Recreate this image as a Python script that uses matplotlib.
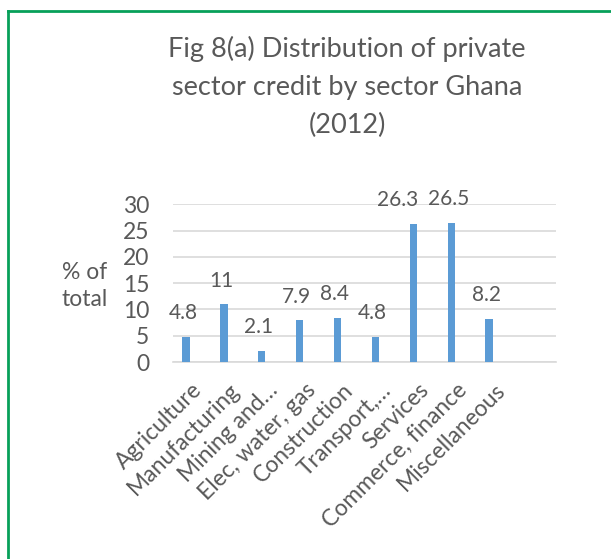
import matplotlib.pyplot as plt
import matplotlib.transforms as mtransforms
from matplotlib.lines import Line2D

sectors = ['Agriculture', 'Manufacturing', 'Mining and…', 'Elec, water, gas',
           'Construction', 'Transport,…', 'Services', 'Commerce, finance',
           'Miscellaneous']
share = [4.8, 11, 2.1, 7.9, 8.4, 4.8, 26.3, 26.5, 8.2]
yticks = [0, 5, 10, 15, 20, 25, 30]

plt.rcParams['font.family'] = ['Lato', 'DejaVu Sans']
txt = '#595959'
fs = 16.5

fig = plt.figure(figsize=(6.11, 5.59), dpi=100)
ax = fig.add_axes([0.283, 0.3524, 0.627, 0.2821])

x = list(range(len(sectors)))
ax.bar(x, share, width=0.2, color='#5B9BD5', zorder=3)
for xi, v in zip(x, share):
    # excel pushed the Services label left so it clears its neighbour
    dx = -11 if xi == 6 else -2
    ax.annotate(f'{v:g}', (xi, v), xytext=(dx, 17), textcoords='offset points',
                ha='center', va='center', fontsize=15, color=txt)

ax.set_ylim(0, 30)
ax.set_xlim(-0.34, 9.76)
ax.set_yticks(yticks)
ax.grid(axis='y', color='#d9d9d9', linewidth=1.2, zorder=0)
for s in ['top', 'right', 'left']:
    ax.spines[s].set_visible(False)
ax.spines['bottom'].set_color('#d9d9d9')
ax.spines['bottom'].set_linewidth(1.2)
ax.tick_params(axis='y', length=0, labelsize=fs, labelcolor=txt, pad=17)
ax.tick_params(axis='x', length=0, labelsize=fs, labelcolor=txt, pad=6)
ax.set_xticks(x)
ax.set_xticklabels(sectors, rotation=45, ha='right', va='top',
                   rotation_mode='anchor')
# nudge the slanted labels a bit right and down
shift = mtransforms.ScaledTranslation(5 / 100, -9 / 100, fig.dpi_scale_trans)
for lab in ax.get_xticklabels():
    lab.set_transform(lab.get_transform() + shift)

fig.text(85 / 611, 1 - 286 / 559, '% of\ntotal', ha='center', va='center',
         fontsize=fs, color=txt, linespacing=1.3)
fig.text(347 / 611, 1 - 87 / 559,
         'Fig 8(a) Distribution of private\nsector credit by sector Ghana\n(2012)',
         ha='center', va='center', fontsize=19.5, color=txt, linespacing=1.65)

green = '#07A05A'
fig.add_artist(Line2D([8 / 611, 1.0], [1 - 11 / 559] * 2, color=green, lw=2,
                      transform=fig.transFigure))
fig.add_artist(Line2D([8 / 611] * 2, [0, 1 - 11 / 559], color=green, lw=2,
                      transform=fig.transFigure))

fig.savefig('out.png', dpi=100)
